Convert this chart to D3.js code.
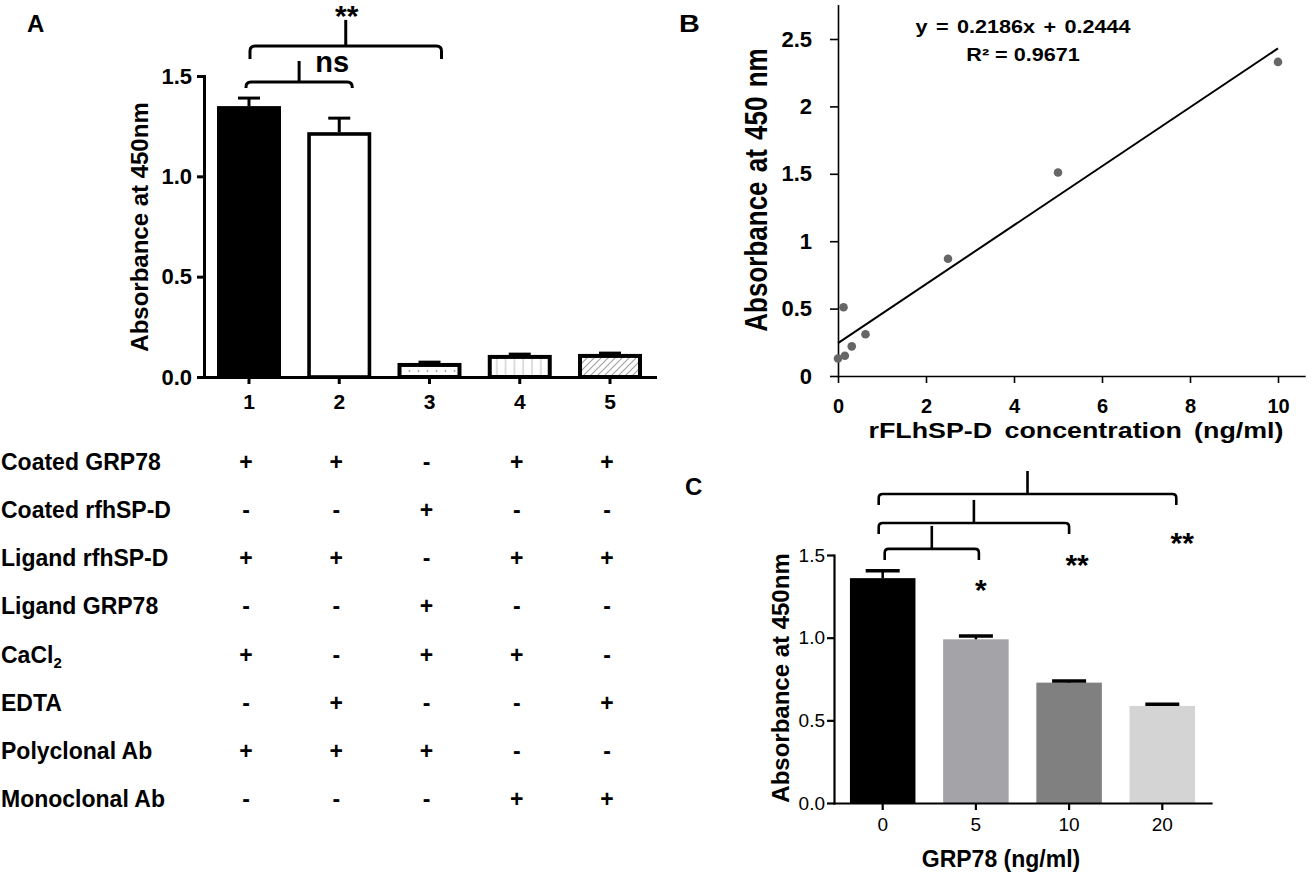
<!DOCTYPE html>
<html><head><meta charset="utf-8">
<script src="https://cdn.jsdelivr.net/npm/d3@7"></script>
<style>
html,body{margin:0;padding:0;background:#fff;}
svg{display:block;font-family:"Liberation Sans",Arial,Helvetica,sans-serif;}
</style></head><body>
<svg id="fig" width="1312" height="873"></svg>
<script>
// ---------- Panel A data ----------
const aCategories = ["1", "2", "3", "4", "5"];
const aValues = [1.35, 1.22, 0.07, 0.11, 0.115];
const aErrors = [0.04, 0.07, 0.004, 0.004, 0.004];
const aTicks = [0, 0.5, 1.0, 1.5];
const aRowLabels = ["Coated GRP78", "Coated rfhSP-D", "Ligand rfhSP-D", "Ligand GRP78", "CaCl2", "EDTA", "Polyclonal Ab", "Monoclonal Ab"];
const aRowSigns = ["++-++", "--+--", "++-++", "--+--", "+-++-", "-+--+", "+++--", "---++"];
const aBrackets = [["1", "2", "ns"], ["1", "3", "**"]];

// ---------- Panel B data ----------
const bConc = [0, 0.125, 0.156, 0.3125, 0.625, 2.5, 5, 10];
const bAbs = [0.13, 0.51, 0.15, 0.22, 0.31, 0.87, 1.51, 2.33];
const bSlope = 0.2186, bIntercept = 0.2444, bR2 = 0.9671;
const bXTicks = [0, 2, 4, 6, 8, 10];
const bYTicks = [0, 0.5, 1, 1.5, 2, 2.5];

// ---------- Panel C data ----------
const cCategories = ["0", "5", "10", "20"];
const cValues = [1.36, 0.99, 0.728, 0.587];
const cErrors = [0.044, 0.02, 0.01, 0.01];
const cColors = ["#000000", "#a3a3a8", "#808080", "#d4d4d4"];
const cTicks = [0, 0.5, 1.0, 1.5];
const cBrackets = [["0", "5", "*"], ["0", "10", "**"], ["0", "20", "**"]];

const svg = d3.select("#fig");

function styleAxis(g, sw, fs, fw) {
  g.select(".domain").attr("stroke", "#000").attr("stroke-width", sw).attr("stroke-linecap", "square");
  g.selectAll(".tick line").attr("stroke", "#000").attr("stroke-width", sw);
  g.selectAll(".tick text").attr("fill", "#000").style("font-size", fs + "px").style("font-weight", fw)
    .style("font-family", '"Liberation Sans",Arial,sans-serif');
}
function bracketPath(x1, x2, yH, drop, r) {
  return `M${x1},${yH + drop} L${x1},${yH + r} Q${x1},${yH} ${x1 + r},${yH} L${x2 - r},${yH} Q${x2},${yH} ${x2},${yH + r} L${x2},${yH + drop}`;
}

// ---------- patterns ----------
const defs = svg.append("defs");
const pD = defs.append("pattern").attr("id", "pDots").attr("patternUnits", "userSpaceOnUse").attr("width", 9).attr("height", 8);
pD.append("rect").attr("width", 9).attr("height", 8).attr("fill", "#fff");
pD.append("circle").attr("cx", 4.5).attr("cy", 3).attr("r", 0.9).attr("fill", "#999");
const pV = defs.append("pattern").attr("id", "pVert").attr("patternUnits", "userSpaceOnUse").attr("width", 8.8).attr("height", 10);
pV.append("rect").attr("width", 8.8).attr("height", 10).attr("fill", "#fff");
pV.append("line").attr("x1", 4).attr("x2", 4).attr("y1", 0).attr("y2", 10).attr("stroke", "#c8c8c8").attr("stroke-width", 1.2);
const pH = defs.append("pattern").attr("id", "pHatch").attr("patternUnits", "userSpaceOnUse").attr("width", 7).attr("height", 7);
pH.append("rect").attr("width", 7).attr("height", 7).attr("fill", "#fff");
pH.append("path").attr("d", "M0,7 L7,0 M-1,1 L1,-1 M6,8 L8,6").attr("stroke", "#a0a0a0").attr("stroke-width", 1.1);

// ================= PANEL A =================
const ax = d3.scaleBand().domain(aCategories).range([204, 655]).paddingInner(0.291).paddingOuter(0.144);
const ay = d3.scaleLinear().domain([0, 1.5]).range([377, 76]);
const aFills = ["#000", "#fff", "url(#pDots)", "url(#pVert)", "url(#pHatch)"];
const aStrokeW = [0, 3.6, 4, 4, 4];
const gA = svg.append("g");
const bwA = ax.bandwidth();
gA.selectAll("rect.bar").data(aCategories).join("rect")
  .attr("class", "bar")
  .attr("x", (d, i) => ax(d) + aStrokeW[i] / 2)
  .attr("width", (d, i) => bwA - aStrokeW[i])
  .attr("y", (d, i) => ay(aValues[i]) + aStrokeW[i] / 2)
  .attr("height", (d, i) => ay(0) - ay(aValues[i]) - aStrokeW[i] / 2)
  .attr("fill", (d, i) => aFills[i])
  .attr("stroke", (d, i) => aStrokeW[i] ? "#000" : "none")
  .attr("stroke-width", (d, i) => aStrokeW[i]);
// error bars
aCategories.forEach((d, i) => {
  const cx0 = ax(d) + bwA / 2;
  const yt = ay(aValues[i] + aErrors[i]);
  gA.append("line").attr("x1", cx0).attr("x2", cx0).attr("y1", ay(aValues[i])).attr("y2", yt).attr("stroke", "#000").attr("stroke-width", 3);
  gA.append("line").attr("x1", cx0 - 11).attr("x2", cx0 + 11).attr("y1", yt).attr("y2", yt).attr("stroke", "#000").attr("stroke-width", 3);
});
const gAy = gA.append("g").attr("transform", "translate(204,0)")
  .call(d3.axisLeft(ay).tickValues(aTicks).tickFormat(d3.format(".1f")).tickSize(7).tickPadding(5).tickSizeOuter(0));
styleAxis(gAy, 3, 22, "bold");
const gAx = gA.append("g").attr("transform", "translate(0,377)")
  .call(d3.axisBottom(ax).tickSize(7).tickPadding(10).tickSizeOuter(0));
styleAxis(gAx, 3, 21, "bold");
gA.append("text").attr("transform", "translate(148,227) rotate(-90)").attr("text-anchor", "middle")
  .style("font-size", "24px").style("font-weight", "bold").text("Absorbance at 450nm");
gA.append("text").attr("x", 27).attr("y", 32).style("font-size", "24px").style("font-weight", "bold").text("A");
// significance brackets A
const aBrLevel = [1.47, 1.65], aBrDrop = [6, 13], aBrL = [-3, 1], aBrR = [13, 12], aBrTop = [21, 26];
aBrackets.forEach((b, i) => {
  const x1 = ax(b[0]) + bwA / 2 + aBrL[i], x2 = ax(b[1]) + bwA / 2 + aBrR[i];
  const yH = ay(aBrLevel[i]);
  const sx = (x1 + x2) / 2;
  gA.append("path").attr("d", bracketPath(x1, x2, yH, aBrDrop[i], 5)).attr("fill", "none").attr("stroke", "#000").attr("stroke-width", 3);
  gA.append("line").attr("x1", sx).attr("x2", sx).attr("y1", yH).attr("y2", yH - aBrTop[i]).attr("stroke", "#000").attr("stroke-width", 3);
  if (b[2] === "ns") {
    gA.append("text").attr("x", sx + 33).attr("y", yH - 10).attr("text-anchor", "middle")
      .style("font-size", "29px").style("font-weight", "bold").text(b[2]);
  } else {
    gA.append("text").attr("x", sx + 1).attr("y", yH - aBrTop[i] + 6).attr("text-anchor", "middle")
      .style("font-size", "30px").style("font-weight", "bold").text(b[2]);
  }
});
// condition table
const rowY = d3.scaleLinear().domain([0, 7]).range([470, 807]);
const gT = svg.append("g");
aRowLabels.forEach((lab, r) => {
  const t = gT.append("text").attr("x", 1).attr("y", rowY(r)).style("font-size", "23px").style("font-weight", "bold");
  if (lab === "CaCl2") {
    t.append("tspan").text("CaCl");
    t.append("tspan").attr("dy", 5).style("font-size", "15px").text("2");
  } else {
    t.text(lab);
  }
  aRowSigns[r].split("").forEach((s, c) => {
    gT.append("text").attr("x", ax(aCategories[c]) + bwA / 2 - 3).attr("y", rowY(r)).attr("text-anchor", "middle")
      .style("font-size", "23px").style("font-weight", "bold").text(s);
  });
});

// ================= PANEL B =================
const bx = d3.scaleLinear().domain([0, 10.6]).range([838, 1304.4]);
const by = d3.scaleLinear().domain([0, 2.75]).range([376, 5.3]);
const gB = svg.append("g");
const gBy = gB.append("g").attr("transform", "translate(838,0)")
  .call(d3.axisLeft(by).tickValues(bYTicks).tickFormat(d3.format("~g")).tickSize(8).tickPadding(18).tickSizeOuter(0));
styleAxis(gBy, 1.6, 22, "bold");
const gBx = gB.append("g").attr("transform", "translate(0,376)")
  .call(d3.axisBottom(bx).tickValues(bXTicks).tickSize(7).tickPadding(16).tickSizeOuter(0));
styleAxis(gBx, 1.6, 20, "bold");
const trend = [0, 10].map(x => [bx(x), by(bSlope * x + bIntercept)]);
gB.append("path").attr("d", d3.line()(trend)).attr("stroke", "#000").attr("stroke-width", 2).attr("fill", "none");
gB.selectAll("circle.pt").data(bConc).join("circle").attr("class", "pt")
  .attr("cx", d => bx(d)).attr("cy", (d, i) => by(bAbs[i])).attr("r", 4.3).attr("fill", "#666");
gB.append("text").attr("transform", "translate(1023,33) scale(1.2,1)").attr("text-anchor", "middle")
  .style("font-size", "18px").style("font-weight", "bold").style("word-spacing", "2px")
  .text(`y = ${bSlope}x + ${bIntercept}`);
gB.append("text").attr("transform", "translate(1023,61) scale(1.2,1)").attr("text-anchor", "middle")
  .style("font-size", "18px").style("font-weight", "bold").text(`R² = ${bR2}`);
gB.append("text").attr("transform", "translate(767,190) scale(1.2,1) rotate(-90)").attr("text-anchor", "middle")
  .style("font-size", "26px").style("font-weight", "bold").style("word-spacing", "2px").text("Absorbance at 450 nm");
gB.append("text").attr("transform", "translate(1076,438) scale(1.22,1)").attr("text-anchor", "middle")
  .style("font-size", "22px").style("font-weight", "bold").style("word-spacing", "4px").text("rFLhSP-D concentration (ng/ml)");
gB.append("text").attr("transform", "translate(679,32) scale(1.2,1)")
  .style("font-size", "24px").style("font-weight", "bold").text("B");

// ================= PANEL C =================
const cx = d3.scaleBand().domain(cCategories).range([834, 1211]).paddingInner(0.297).paddingOuter(0.171);
const cy = d3.scaleLinear().domain([0, 1.5]).range([803, 555]);
const bwC = cx.bandwidth();
const gC = svg.append("g");
gC.selectAll("rect.bar").data(cCategories).join("rect").attr("class", "bar")
  .attr("x", d => cx(d)).attr("width", bwC)
  .attr("y", (d, i) => cy(cValues[i])).attr("height", (d, i) => cy(0) - cy(cValues[i]))
  .attr("fill", (d, i) => cColors[i]);
cCategories.forEach((d, i) => {
  const c0 = cx(d) + bwC / 2;
  const yt = cy(cValues[i] + cErrors[i]);
  gC.append("line").attr("x1", c0).attr("x2", c0).attr("y1", cy(cValues[i])).attr("y2", yt).attr("stroke", "#000").attr("stroke-width", 2.5);
  gC.append("line").attr("x1", c0 - 17).attr("x2", c0 + 17).attr("y1", yt).attr("y2", yt).attr("stroke", "#000").attr("stroke-width", 3.5);
});
const gCy = gC.append("g").attr("transform", "translate(834,0)")
  .call(d3.axisLeft(cy).tickValues(cTicks).tickFormat(d3.format(".1f")).tickSize(7).tickPadding(2).tickSizeOuter(0));
styleAxis(gCy, 2.2, 19, "normal");
const gCx = gC.append("g").attr("transform", "translate(0,803)")
  .call(d3.axisBottom(cx).tickSize(7).tickPadding(8).tickSizeOuter(0));
styleAxis(gCx, 2.2, 19, "normal");
gC.append("text").attr("transform", "translate(789,678) rotate(-90)").attr("text-anchor", "middle")
  .style("font-size", "24px").style("font-weight", "bold").text("Absorbance at 450nm");
gC.append("text").attr("x", 1001).attr("y", 867).attr("text-anchor", "middle")
  .style("font-size", "23px").style("font-weight", "bold").text("GRP78 (ng/ml)");
gC.append("text").attr("x", 685).attr("y", 495).style("font-size", "24px").style("font-weight", "bold").text("C");
const cBrLevel = [1.537, 1.694, 1.869], cBrL = [2, -4, -4], cBrR = [3, 0, 14];
const cStarVal = [1.325, 1.48, 1.61], cStarDx = [5, 8, 20];
cBrackets.forEach((b, i) => {
  const x1 = cx(b[0]) + bwC / 2 + cBrL[i], x2 = cx(b[1]) + bwC / 2 + cBrR[i];
  const yH = cy(cBrLevel[i]);
  const sx = (x1 + x2) / 2;
  gC.append("path").attr("d", bracketPath(x1, x2, yH, 11, 4)).attr("fill", "none").attr("stroke", "#000").attr("stroke-width", 2.6);
  gC.append("line").attr("x1", sx).attr("x2", sx).attr("y1", yH).attr("y2", yH - 23).attr("stroke", "#000").attr("stroke-width", 2.6);
  gC.append("text").attr("x", cx(b[1]) + bwC / 2 + cStarDx[i]).attr("y", cy(cStarVal[i]) + 16.5).attr("text-anchor", "middle")
    .style("font-size", "30px").style("font-weight", "bold").text(b[2]);
});
</script>
</body></html>
